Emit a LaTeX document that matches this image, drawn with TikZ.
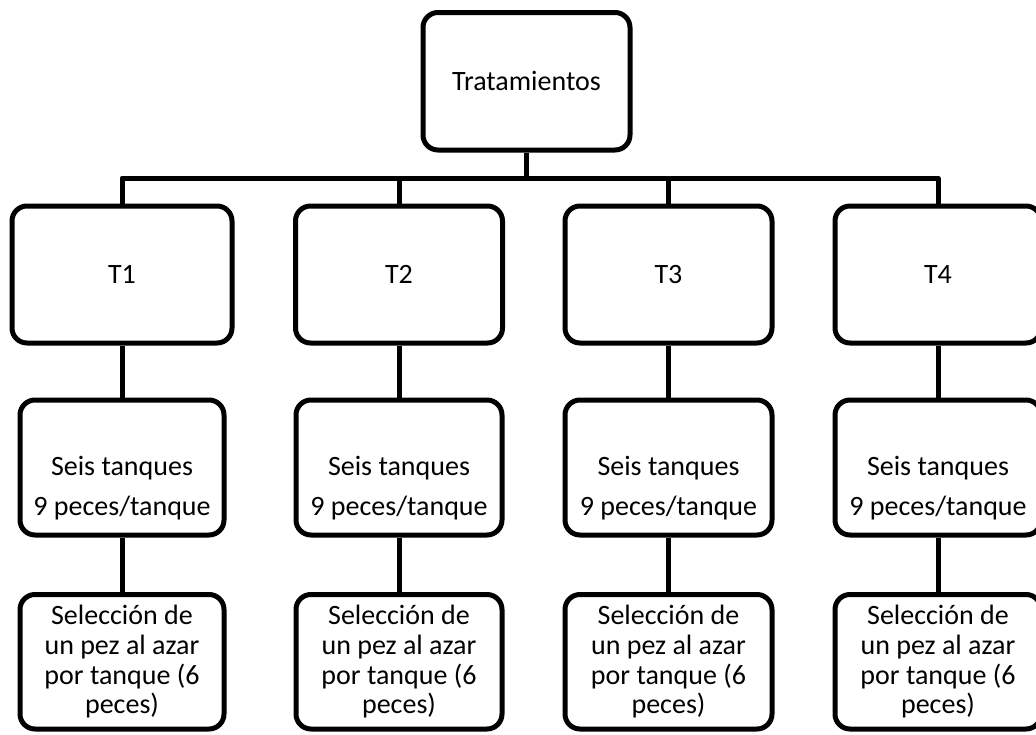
\documentclass[tikz,border=0pt]{standalone}
\usepackage{fontspec}
\setmainfont{Carlito}
\begin{document}
\begin{tikzpicture}[x=1pt,y=-1pt,
  box/.style={draw, line width=5pt, rounded corners=15pt, inner sep=0pt, font=\fontsize{28}{34}\selectfont},
  txt/.style={inner sep=0pt, anchor=base, font=\fontsize{28}{30}\selectfont},
  conn/.style={line width=5pt, line join=round}]
\useasboundingbox (0,0) rectangle (1036,734);
\fill[white] (0,0) rectangle (1036,734);
% top box
\node[box, minimum width=207pt, minimum height=137.5pt] (top) at (526.5,81.25) {Tratamientos};
% treatment boxes
\foreach \i/\x/\w in {1/122/220, 2/399/207, 3/668.5/207, 4/938/206} {
  \node[box, minimum width=\w pt, minimum height=137pt] (t\i) at (\x,274.5) {T\i};
}
% second and third rows
\foreach \i/\x/\w in {1/122/204, 2/399/206, 3/668.5/207, 4/938/206} {
  \node[box, minimum width=\w pt, minimum height=135pt] (s\i) at (\x,467.5) {};
  \node[txt] (s\i-a) at (\x,475) {Seis tanques};
  \node[txt] (s\i-b) at (\x,515) {9 peces/tanque};
  \node[box, minimum width=\w pt, minimum height=134.5pt] (r\i) at (\x,661.75) {};
  \node[txt] (r\i-a) at (\x,624) {Selección de};
  \node[txt] (r\i-b) at (\x,654) {un pez al azar};
  \node[txt] (r\i-c) at (\x,684) {por tanque (6};
  \node[txt] (r\i-d) at (\x,713) {peces)};
}
% connectors
\coordinate (bar) at (526.5,178);
\draw[conn] (top.south) -- (bar);
\draw[conn] (t1.north) |- (bar) -| (t4.north);
\draw[conn] (t2.north) -- (t2.north |- bar);
\draw[conn] (t3.north) -- (t3.north |- bar);
\foreach \i in {1,...,4} {
  \draw[conn] (t\i.south) -- (s\i.north);
  \draw[conn] (s\i.south) -- (r\i.north);
}
\end{tikzpicture}
\end{document}
